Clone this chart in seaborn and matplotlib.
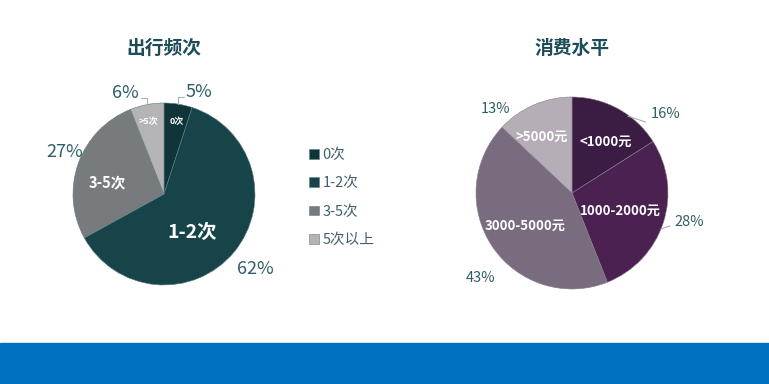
import numpy as np
import matplotlib
matplotlib.use("Agg")
import matplotlib.pyplot as plt
import seaborn as sns
from matplotlib.patches import Rectangle

sns.set_theme(style="white")
plt.rcParams['font.family'] = ['Noto Sans CJK SC', 'DejaVu Sans']

# data
freq_title = '出行频次'
freq_labels = ['0次', '1-2次', '3-5次', '>5次']
freq_legend = ['0次', '1-2次', '3-5次', '5次以上']
freq_values = [5, 62, 27, 6]
freq_colors = ['#0f3539', '#174449', '#787b7e', '#b4b4b7']

spend_title = '消费水平'
spend_labels = ['<1000元', '1000-2000元', '3000-5000元', '>5000元']
spend_values = [16, 28, 43, 13]
spend_colors = ['#3b1c42', '#4a2150', '#7a6c7f', '#b5aeb7']

W, H = 769, 384
fig = plt.figure(figsize=(W / 100, H / 100), dpi=100)
ax = fig.add_axes([0, 0, 1, 1])
ax.set_xlim(0, W)
ax.set_ylim(0, H)
ax.axis('off')

pct_color = '#2f5e68'
title_color = '#1d4c59'


def mid_angles(values):
    # clockwise from 12 o'clock, degrees
    v = np.array(values, dtype=float)
    ends = 90 - np.cumsum(v) / v.sum() * 360
    starts = ends + v / v.sum() * 360
    return (starts + ends) / 2


def polar(c, r, ang):
    a = np.deg2rad(ang)
    return c[0] + r * np.cos(a), c[1] + r * np.sin(a)


# left pie
c1, r1 = (164, 190), 91
w1, _ = ax.pie(freq_values, colors=freq_colors, startangle=90, counterclock=False,
               center=c1, radius=r1, frame=True,
               wedgeprops=dict(edgecolor='#5d7e82', linewidth=0.4))
m1 = mid_angles(freq_values)
# percentage labels: (angle nudge, radius factor)
pct_pos1 = [(-10, 1.18), (0, 1.30), (-3, 1.18), (10, 1.19)]
for v, m, (da, rf) in zip(freq_values, m1, pct_pos1):
    x, y = polar(c1, r1 * rf, m + da)
    ax.text(x, y, f'{v}%', ha='center', va='center', fontsize=13, color=pct_color)
# in-slice labels: (angle nudge, radius factor, size)
in_pos1 = [(-1, 0.81, 6.5), (-14, 0.52, 14), (8, 0.64, 10.5), (1, 0.81, 6.5)]
for lab, m, (da, rf, fs) in zip(freq_labels, m1, in_pos1):
    x, y = polar(c1, r1 * rf, m + da)
    ax.text(x, y, lab, ha='center', va='center', fontsize=fs, color='white',
            fontweight='bold')
# leader lines for small slices
for m, side in [(m1[0], 1), (m1[3], -1)]:
    x0, y0 = polar(c1, r1 * 1.0, m)
    ax.plot([x0, x0, x0 + side * 6], [y0, y0 + 7, y0 + 7], color='#a9b1b3', lw=0.8)

ax.text(c1[0], H - 48, freq_title, ha='center', va='center', fontsize=13.5,
        fontweight='bold', color=title_color)

# legend for left pie
leg = ax.legend(w1, freq_legend, loc='upper left', bbox_to_anchor=(296 / W, 1 - 135 / H),
                bbox_transform=fig.transFigure, frameon=False, fontsize=10.5,
                handlelength=0.65, handleheight=0.65, handletextpad=0.25,
                labelspacing=0.98)
for t in leg.get_texts():
    t.set_color('#3f6069')

# right pie
c2, r2 = (572, 191), 96
ax.pie(spend_values, colors=spend_colors, startangle=90, counterclock=False,
       center=c2, radius=r2, frame=True,
       wedgeprops=dict(edgecolor='#8a7a8e', linewidth=0.4))
m2 = mid_angles(spend_values)
pct_pos2 = [(-21, 1.28), (4, 1.26), (9, 1.30), (19, 1.18)]
for v, m, (da, rf) in zip(spend_values, m2, pct_pos2):
    x, y = polar(c2, r2 * rf, m + da)
    ax.text(x, y, f'{v}%', ha='center', va='center', fontsize=10.5, color=pct_color)
in_pos2 = [(-5, 0.64, 9.5), (-2, 0.54, 9.5), (1, 0.60, 9.5), (5, 0.66, 9.5)]
for lab, m, (da, rf, fs) in zip(spend_labels, m2, in_pos2):
    x, y = polar(c2, r2 * rf, m + da)
    ax.text(x, y, lab, ha='center', va='center', fontsize=fs, color='white',
            fontweight='bold')
# leader lines
x0, y0 = polar(c2, r2 * 0.99, 54)
ax.plot([x0, x0 + 18], [y0, y0 - 6], color='#a9b1b3', lw=0.8)
x0, y0 = polar(c2, r2 * 1.0, -22)
ax.plot([x0, x0 + 9], [y0, y0 + 3], color='#a9b1b3', lw=0.8)

ax.text(c2[0], H - 48, spend_title, ha='center', va='center', fontsize=13.5,
        fontweight='bold', color=title_color)

ax.set_xlim(0, W)
ax.set_ylim(0, H)
ax.set_aspect('auto')

# blue band at bottom
fig.patches.append(Rectangle((0, 0), 1, 41 / H, transform=fig.transFigure,
                             color='#0070c0', zorder=0))

fig.savefig('out.png', dpi=100)
